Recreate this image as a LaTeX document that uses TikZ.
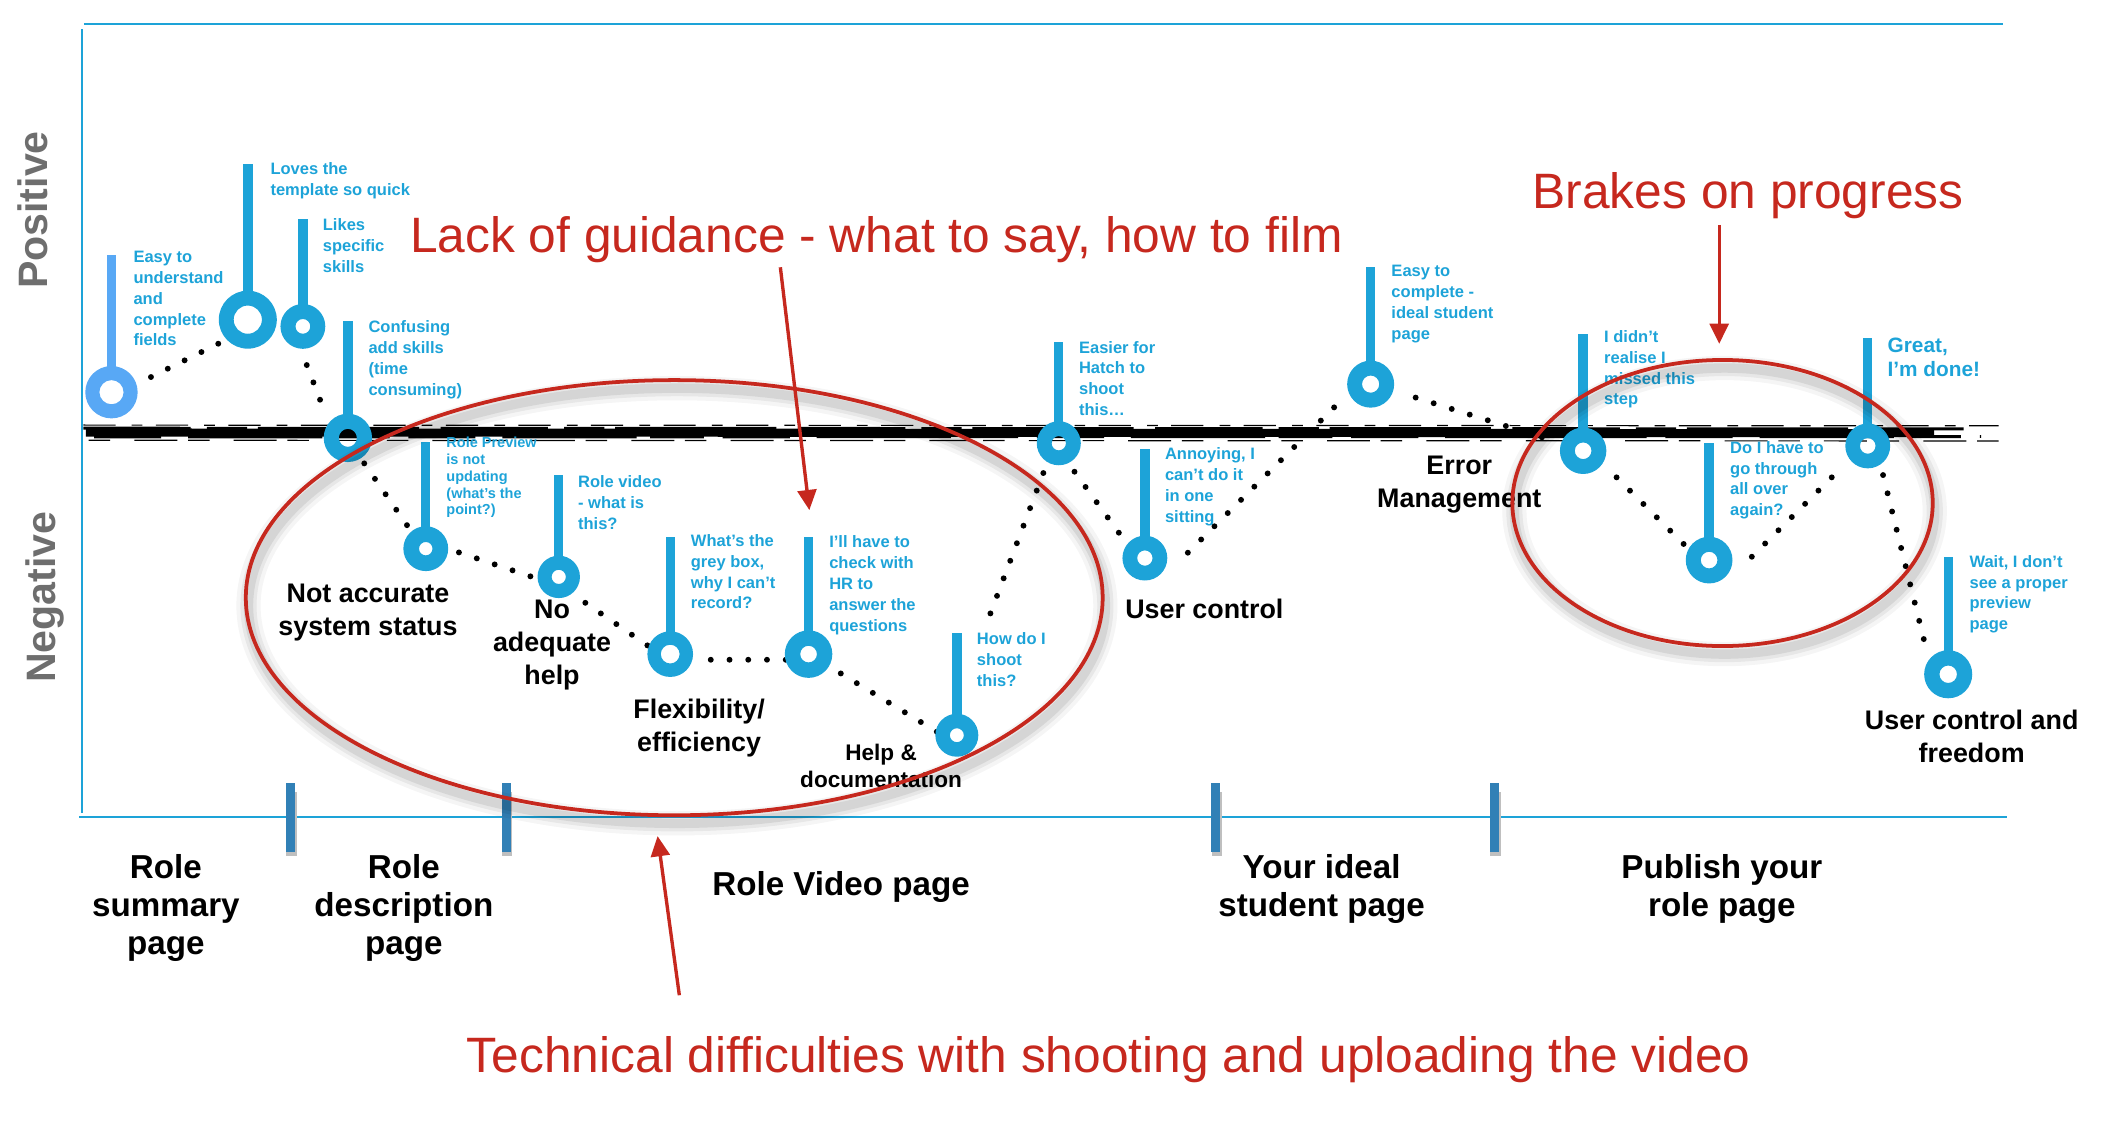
\documentclass[tikz,border=0pt]{standalone}
\usepackage{fontspec}
\setmainfont{Liberation Sans}
\usetikzlibrary{calc,arrows.meta}
\definecolor{jblue}{RGB}{29,163,216}
\definecolor{jlight}{RGB}{88,168,245}
\definecolor{jred}{RGB}{198,40,30}
\definecolor{jtick}{RGB}{49,128,182}
\definecolor{jgrey}{RGB}{110,110,110}
\newcommand\jmarker[7]{%
  \fill[#7] (#2-3.5,#3) rectangle (#2+3.5,#4-#6-1);
  \fill[#7,even odd rule] (#2,#4) circle[radius=#5] (#2,#4) circle[radius=#6];
  \coordinate (#1) at (#2,#4);
}
\newcommand\jdots[3]{%
  \foreach \k in {0,...,#3}{\fill ($(#1)!{\k/#3}!(#2)$) circle[radius=2.2];}
}
\tikzset{
  note/.style={text=jblue, font=\bfseries\fontsize{6.15}{7.75}\selectfont, align=left, anchor=north west, inner sep=0pt},
  lab/.style={font=\bfseries\fontsize{10}{12.2}\selectfont, align=center, anchor=north, inner sep=0pt},
  stage/.style={font=\bfseries\fontsize{12.35}{14.25}\selectfont, align=center, anchor=north, inner sep=0pt},
  redtxt/.style={text=jred, font=\fontsize{18.5}{22}\selectfont, anchor=base, inner sep=0pt},
  redarrow/.style={jred, line width=1.25pt, -{Triangle[length=7.5pt,width=7pt]}},
  axisline/.style={jblue, line width=0.7pt},
  sidelab/.style={text=jgrey, font=\bfseries\fontsize{15.3}{18}\selectfont, rotate=90, anchor=base, inner sep=0pt},
  ring/.style={jred, line width=1.4pt},
  tickmark/.style={fill=jtick},
}
\begin{document}
\begin{tikzpicture}[x=0.5pt,y=-0.5pt]
\useasboundingbox (0,0) rectangle (1568,841);
% axes
\draw[axisline] (62.5,17.9) -- (1491,17.9);
\draw[axisline] (60.8,21.8) -- (60.8,605.5);
\draw[axisline] (59,608) -- (1494.4,608);
% ticks
\foreach \tx in {216.3,377,905,1112.7}{
  \fill[black!25] (\tx-3,590) rectangle (\tx+4.5,637);
  \fill[tickmark] (\tx-3.5,583) rectangle (\tx+3.5,634);
}
% side labels
\node[sidelab] (pos) at (35,156.4) {Positive};
\node[sidelab] (neg) at (41.5,444.7) {Negative};
% brush line
\draw[line width=3pt] (64,322) -- (1440,322.5);
\draw[line width=1.1pt, dash pattern=on 40pt off 6pt on 15pt off 4pt on 60pt off 8pt] (62,318.8) -- (1462,319.3);
\draw[line width=1.1pt, dash pattern=on 25pt off 10pt on 50pt off 5pt on 20pt off 7pt] (70,325.3) -- (1475,325);
\draw[line width=0.45pt, dash pattern=on 12pt off 6pt on 4pt off 5pt] (62,316.5) -- (1488,317);
\draw[line width=0.45pt, dash pattern=on 8pt off 9pt on 16pt off 4pt] (66,327.8) -- (1490,328.3);
% dotted paths
\coordinate (ab1) at (112.4,280.7); \coordinate (ab2) at (162.5,255.9);
\coordinate (cd1) at (228.4,271.8); \coordinate (cd2) at (238.3,297.6);
\coordinate (de1) at (271.2,345);   \coordinate (de2) at (303,391);
\coordinate (ef1) at (341.7,411.3); \coordinate (ef2) at (394.9,429.1);
\coordinate (fg1) at (435.8,448.8); \coordinate (fg2) at (482,480.5);
\coordinate (gh1) at (529.2,491.2); \coordinate (gh2) at (585,491.2);
\coordinate (hi1) at (626,501.4);   \coordinate (hi2) at (697.5,544.8);
\coordinate (ij1) at (737.4,456.7); \coordinate (ij2) at (776.8,352.2);
\coordinate (jk1) at (800,351.2);   \coordinate (jk2) at (833,396.6);
\coordinate (kl1) at (884.4,411.5); \coordinate (kl2) at (993.3,303.3);
\coordinate (lm1) at (1054,296);    \coordinate (lm2) at (1148,325.6);
\coordinate (mn1) at (1203.6,355.4);\coordinate (mn2) at (1253.5,405);
\coordinate (no1) at (1304.3,414.5);\coordinate (no2) at (1363.8,355.4);
\coordinate (op1) at (1402,353.7);  \coordinate (op2) at (1432.3,475.8);
\jdots{ab1}{ab2}{4}
\jdots{cd1}{cd2}{2}
\jdots{de1}{de2}{4}
\jdots{ef1}{ef2}{4}
\jdots{fg1}{fg2}{4}
\jdots{gh1}{gh2}{4}
\jdots{hi1}{hi2}{6}
\jdots{ij1}{ij2}{8}
\jdots{jk1}{jk2}{4}
\jdots{kl1}{kl2}{11}
\jdots{lm1}{lm2}{7}
\jdots{mn1}{mn2}{5}
\jdots{no1}{no2}{6}
\jdots{op1}{op2}{9}
% markers
\jmarker{mA}{83}{190}{292}{19.5}{9}{jlight}
\jmarker{mB}{184.5}{122}{238}{21.6}{10.5}{jblue}
\jmarker{mC}{225.5}{163}{243}{16.7}{5.5}{jblue}
\jmarker{mD}{259}{239}{326}{18}{6.7}{jblue}
\jmarker{mE}{317}{329}{408.5}{16.7}{5}{jblue}
\jmarker{mF}{416}{354}{429.5}{15.8}{5.3}{jblue}
\jmarker{mG}{499}{400}{487}{17}{7}{jblue}
\jmarker{mH}{602}{400}{487}{17.7}{6.2}{jblue}
\jmarker{mI}{712.4}{471.5}{547.4}{16}{5.2}{jblue}
\jmarker{mJ}{788.3}{254.5}{330}{16.4}{5.3}{jblue}
\jmarker{mK}{852.4}{334}{415.5}{16.7}{5.7}{jblue}
\jmarker{mL}{1020.5}{199}{286}{17.5}{6.4}{jblue}
\jmarker{mM}{1178.7}{248.7}{335.6}{17.3}{6.2}{jblue}
\jmarker{mN}{1272.5}{330}{417}{17.4}{6.2}{jblue}
\jmarker{mO}{1390.6}{252}{332}{16.7}{5.8}{jblue}
\jmarker{mP}{1450.5}{415}{502}{17.9}{6.5}{jblue}
% blue notes
\node[note] (tA) at (99,186.7) {Easy to\\understand\\and\\complete\\fields};
\node[note] (tB) at (201,120.6) {Loves the\\template so quick};
\node[note] (tC) at (240,162.6) {Likes\\specific\\skills};
\node[note] (tD) at (274,238.6) {Confusing\\add skills\\(time\\consuming)};
\node[note, font=\bfseries\fontsize{5.4}{6.25}\selectfont] (tE) at (332,325.1) {Role Preview\\is not\\updating\\(what’s the\\point?)};
\node[note] (tF) at (430,353.6) {Role video\\- what is\\this?};
\node[note] (tG) at (514,397.6) {What’s the\\grey box,\\why I can’t\\record?};
\node[note] (tH) at (617,398.6) {I’ll have to\\check with\\HR to\\answer the\\questions};
\node[note] (tI) at (727,470.6) {How do I\\shoot\\this?};
\node[note] (tJ) at (803,253.6) {Easier for\\Hatch to\\shoot\\this…};
\node[note] (tK) at (867,333.1) {Annoying, I\\can’t do it\\in one\\sitting};
\node[note] (tL) at (1035.6,197.1) {Easy to\\complete -\\ideal student\\page};
\node[note] (tM) at (1194,245.6) {I didn’t\\realise I\\missed this\\step};
\node[note] (tN) at (1287.8,328.2) {Do I have to\\go through\\all over\\again?};
\node[note, font=\bfseries\fontsize{7.75}{8.9}\selectfont] (tO) at (1405,251.5) {Great,\\I’m done!};
\node[note] (tP) at (1466,413.1) {Wait, I don’t\\see a proper\\preview\\page};
% black heuristic labels
\node[lab] (hNas) at (274,434.6) {Not accurate\\system status};
\node[lab] (hNah) at (411,446.6) {No\\adequate\\help};
\node[lab] (hFe) at (520.5,520.3) {Flexibility/\\efficiency};
\node[lab, font=\bfseries\fontsize{8.4}{10}\selectfont] (hHd) at (656,553.9) {Help \&\\documentation};
\node[lab, anchor=base] (hUc) at (896.7,460.4) {User control};
\node[lab, font=\bfseries\fontsize{10}{12.05}\selectfont] (hEm) at (1086.5,339.3) {Error\\Management};
\node[lab] (hUcf) at (1468,528.6) {User control and\\freedom};
% stage labels
\node[stage] (s1) at (123.5,635.5) {Role\\summary\\page};
\node[stage] (s2) at (300.7,635.5) {Role\\description\\page};
\node[stage, anchor=base] (s3) at (626.2,667) {Role Video page};
\node[stage] (s4) at (984,635.5) {Your ideal\\student page};
\node[stage] (s5) at (1282,635.5) {Publish your\\role page};
% red ellipses with soft shadow
\foreach \w/\o in {9/0.04,6/0.06,3.5/0.08}{
  \draw[black, opacity=\o, line width=\w pt] (504,451) ellipse[x radius=319, y radius=162];
  \draw[black, opacity=\o, line width=\w pt] (1284,380.5) ellipse[x radius=156.5, y radius=106.5];
}
\draw[ring] (502,445) ellipse[x radius=319, y radius=162];
\draw[ring] (1282.5,374.5) ellipse[x radius=156.5, y radius=106.5];
% red titles and arrows
\node[redtxt] (rLack) at (652.5,188) {Lack of guidance - what to say, how to film};
\node[redtxt] (rBrake) at (1301.5,155) {Brakes on progress};
\node[redtxt] (rTech) at (825.5,798.7) {Technical difficulties with shooting and uploading the video};
\coordinate (aLs) at (581,199);   \coordinate (aLe) at (602.6,379.8);
\coordinate (aTs) at (505.8,741); \coordinate (aTe) at (489.6,622.5);
\coordinate (aBs) at (1280,167.5);\coordinate (aBe) at (1280,256);
\draw[redarrow] (aLs) -- (aLe);
\draw[redarrow] (aTs) -- (aTe);
\draw[redarrow] (aBs) -- (aBe);
\end{tikzpicture}
\end{document}
